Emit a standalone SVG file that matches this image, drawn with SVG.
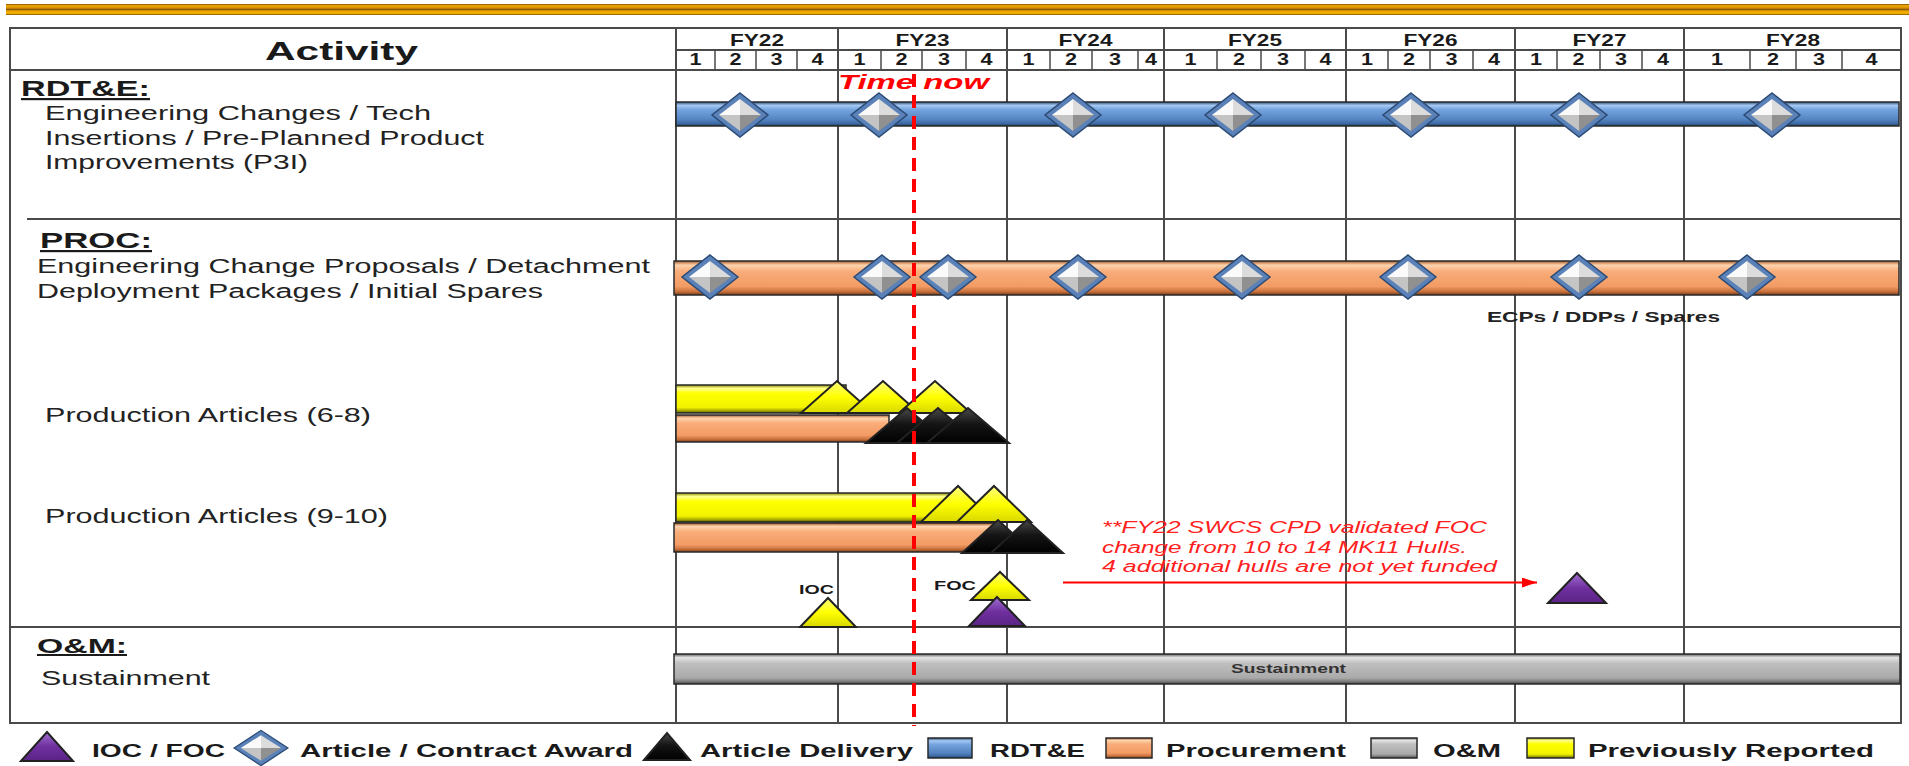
<svg xmlns="http://www.w3.org/2000/svg" xmlns:xlink="http://www.w3.org/1999/xlink" width="1909" height="766" viewBox="0 0 1909 766">
<style>
text{font-family:"Liberation Sans",Arial,sans-serif;fill:#1a1a1a}
.b{font-weight:bold}
.hdr{font-size:17px;font-weight:bold}
.q{font-size:16px;font-weight:bold;text-anchor:middle}
.row{font-size:20px;fill:#222}
.sec{font-size:22px;font-weight:bold;text-decoration:underline}
.leg{font-size:18.5px;font-weight:bold}
.note{font-size:16px;font-style:italic;fill:#ff2020}
.small{font-size:13px;font-weight:bold}
.grid{stroke:#4a4a4a;stroke-width:2;fill:none}
.qd{stroke:#4a4a4a;stroke-width:1.5}
.bar{stroke:#2a2a2a;stroke-width:1.5}
.tri{stroke:#222;stroke-width:2;stroke-linejoin:miter}
</style>
<defs>
<linearGradient id="gold" x1="0" y1="0" x2="0" y2="1">
<stop offset="0" stop-color="#7a4a00"/><stop offset="0.15" stop-color="#f2aa00"/><stop offset="0.38" stop-color="#d08a00"/><stop offset="0.5" stop-color="#8a5800"/><stop offset="0.62" stop-color="#e8a000"/><stop offset="0.85" stop-color="#f6b600"/><stop offset="1" stop-color="#7a4a00"/>
</linearGradient>
<linearGradient id="gBlue" x1="0" y1="0" x2="0" y2="1">
<stop offset="0" stop-color="#2c4f7c"/><stop offset="0.14" stop-color="#a6c8f2"/><stop offset="0.32" stop-color="#74a3de"/><stop offset="0.72" stop-color="#5585c2"/><stop offset="0.9" stop-color="#3d6aa3"/><stop offset="1" stop-color="#1f3a60"/>
</linearGradient>
<linearGradient id="gOrange" x1="0" y1="0" x2="0" y2="1">
<stop offset="0" stop-color="#a85a2a"/><stop offset="0.12" stop-color="#ffd4ae"/><stop offset="0.3" stop-color="#f9ad7a"/><stop offset="0.75" stop-color="#f39b64"/><stop offset="0.9" stop-color="#c8703c"/><stop offset="1" stop-color="#7a3e1a"/>
</linearGradient>
<linearGradient id="gYellow" x1="0" y1="0" x2="0" y2="1">
<stop offset="0" stop-color="#8a8a00"/><stop offset="0.12" stop-color="#ffff90"/><stop offset="0.3" stop-color="#ffff00"/><stop offset="0.8" stop-color="#f2f200"/><stop offset="0.92" stop-color="#a8a800"/><stop offset="1" stop-color="#505000"/>
</linearGradient>
<linearGradient id="gGray" x1="0" y1="0" x2="0" y2="1">
<stop offset="0" stop-color="#606060"/><stop offset="0.12" stop-color="#e4e4e4"/><stop offset="0.3" stop-color="#c0c0c0"/><stop offset="0.8" stop-color="#a9a9a9"/><stop offset="0.92" stop-color="#7a7a7a"/><stop offset="1" stop-color="#404040"/>
</linearGradient>
<linearGradient id="tYellow" x1="0" y1="0" x2="0" y2="1">
<stop offset="0" stop-color="#ffff80"/><stop offset="0.5" stop-color="#ffff00"/><stop offset="1" stop-color="#d8d800"/>
</linearGradient>
<linearGradient id="tBlack" x1="0" y1="0" x2="0" y2="1">
<stop offset="0" stop-color="#4a4a4a"/><stop offset="0.45" stop-color="#151515"/><stop offset="1" stop-color="#000"/>
</linearGradient>
<linearGradient id="tPurple" x1="0" y1="0" x2="0" y2="1">
<stop offset="0" stop-color="#a070d0"/><stop offset="0.5" stop-color="#7030a0"/><stop offset="1" stop-color="#5a2385"/>
</linearGradient>
<g id="dia">
<polygon points="0,-22 28,0 0,22 -28,0" fill="#5a82b8" stroke="#2a4a75" stroke-width="1.5"/>
<polygon points="0,-16 -21,0 0,0" fill="#fafafa"/>
<polygon points="0,-16 21,0 0,0" fill="#dcdcdc"/>
<polygon points="-21,0 0,16 0,0" fill="#c4c4c4"/>
<polygon points="21,0 0,16 0,0" fill="#909090"/>
</g>
<marker id="arr" markerUnits="userSpaceOnUse" markerWidth="15" markerHeight="10" refX="15" refY="5" orient="auto">
<path d="M0,0 L15,5 L0,10 z" fill="#ff0000"/>
</marker>
</defs>

<rect x="0" y="0" width="1909" height="766" fill="#ffffff"/>
<rect id="topband" x="6" y="4" width="1903" height="11" fill="url(#gold)"/>

<g id="table">
<rect class="grid" x="10" y="28" width="1891" height="695"/>
<line class="grid" x1="676" y1="28" x2="676" y2="723"/>
<line class="grid" x1="838" y1="28" x2="838" y2="723"/>
<line class="grid" x1="1007" y1="28" x2="1007" y2="723"/>
<line class="grid" x1="1164" y1="28" x2="1164" y2="723"/>
<line class="grid" x1="1346" y1="28" x2="1346" y2="723"/>
<line class="grid" x1="1515" y1="28" x2="1515" y2="723"/>
<line class="grid" x1="1684" y1="28" x2="1684" y2="723"/>
<line class="grid" x1="676" y1="50" x2="1901" y2="50"/>
<line class="grid" x1="10" y1="70" x2="1901" y2="70"/>
<line class="grid" x1="27" y1="219" x2="1901" y2="219"/>
<line class="grid" x1="10" y1="627" x2="1901" y2="627"/>
<g id="quarter-lines">
<line class="qd" x1="715" y1="50" x2="715" y2="70"/><line class="qd" x1="756" y1="50" x2="756" y2="70"/><line class="qd" x1="797" y1="50" x2="797" y2="70"/>
<line class="qd" x1="881" y1="50" x2="881" y2="70"/><line class="qd" x1="922" y1="50" x2="922" y2="70"/><line class="qd" x1="966" y1="50" x2="966" y2="70"/>
<line class="qd" x1="1050" y1="50" x2="1050" y2="70"/><line class="qd" x1="1092" y1="50" x2="1092" y2="70"/><line class="qd" x1="1138" y1="50" x2="1138" y2="70"/>
<line class="qd" x1="1217" y1="50" x2="1217" y2="70"/><line class="qd" x1="1261" y1="50" x2="1261" y2="70"/><line class="qd" x1="1305" y1="50" x2="1305" y2="70"/>
<line class="qd" x1="1388" y1="50" x2="1388" y2="70"/><line class="qd" x1="1430" y1="50" x2="1430" y2="70"/><line class="qd" x1="1473" y1="50" x2="1473" y2="70"/>
<line class="qd" x1="1557" y1="50" x2="1557" y2="70"/><line class="qd" x1="1600" y1="50" x2="1600" y2="70"/><line class="qd" x1="1642" y1="50" x2="1642" y2="70"/>
<line class="qd" x1="1750" y1="50" x2="1750" y2="70"/><line class="qd" x1="1796" y1="50" x2="1796" y2="70"/><line class="qd" x1="1842" y1="50" x2="1842" y2="70"/>
</g>
</g>

<g id="header">
<text class="b" x="265" y="60" font-size="26" textLength="153" lengthAdjust="spacingAndGlyphs">Activity</text>
<text class="hdr" x="757" y="46" text-anchor="middle" textLength="54" lengthAdjust="spacingAndGlyphs">FY22</text>
<text class="hdr" x="922.5" y="46" text-anchor="middle" textLength="54" lengthAdjust="spacingAndGlyphs">FY23</text>
<text class="hdr" x="1085.5" y="46" text-anchor="middle" textLength="54" lengthAdjust="spacingAndGlyphs">FY24</text>
<text class="hdr" x="1255" y="46" text-anchor="middle" textLength="54" lengthAdjust="spacingAndGlyphs">FY25</text>
<text class="hdr" x="1430.5" y="46" text-anchor="middle" textLength="54" lengthAdjust="spacingAndGlyphs">FY26</text>
<text class="hdr" x="1599.5" y="46" text-anchor="middle" textLength="54" lengthAdjust="spacingAndGlyphs">FY27</text>
<text class="hdr" x="1793" y="46" text-anchor="middle" textLength="54" lengthAdjust="spacingAndGlyphs">FY28</text>
<g id="quarters">
<text class="q" x="695.5" y="65" textLength="12" lengthAdjust="spacingAndGlyphs">1</text><text class="q" x="735.5" y="65" textLength="12" lengthAdjust="spacingAndGlyphs">2</text><text class="q" x="776.5" y="65" textLength="12" lengthAdjust="spacingAndGlyphs">3</text><text class="q" x="817.5" y="65" textLength="12" lengthAdjust="spacingAndGlyphs">4</text>
<text class="q" x="859.5" y="65" textLength="12" lengthAdjust="spacingAndGlyphs">1</text><text class="q" x="901.5" y="65" textLength="12" lengthAdjust="spacingAndGlyphs">2</text><text class="q" x="944" y="65" textLength="12" lengthAdjust="spacingAndGlyphs">3</text><text class="q" x="986.5" y="65" textLength="12" lengthAdjust="spacingAndGlyphs">4</text>
<text class="q" x="1028.5" y="65" textLength="12" lengthAdjust="spacingAndGlyphs">1</text><text class="q" x="1071" y="65" textLength="12" lengthAdjust="spacingAndGlyphs">2</text><text class="q" x="1115" y="65" textLength="12" lengthAdjust="spacingAndGlyphs">3</text><text class="q" x="1151" y="65" textLength="12" lengthAdjust="spacingAndGlyphs">4</text>
<text class="q" x="1190.5" y="65" textLength="12" lengthAdjust="spacingAndGlyphs">1</text><text class="q" x="1239" y="65" textLength="12" lengthAdjust="spacingAndGlyphs">2</text><text class="q" x="1283" y="65" textLength="12" lengthAdjust="spacingAndGlyphs">3</text><text class="q" x="1325.5" y="65" textLength="12" lengthAdjust="spacingAndGlyphs">4</text>
<text class="q" x="1367" y="65" textLength="12" lengthAdjust="spacingAndGlyphs">1</text><text class="q" x="1409" y="65" textLength="12" lengthAdjust="spacingAndGlyphs">2</text><text class="q" x="1451.5" y="65" textLength="12" lengthAdjust="spacingAndGlyphs">3</text><text class="q" x="1494" y="65" textLength="12" lengthAdjust="spacingAndGlyphs">4</text>
<text class="q" x="1536" y="65" textLength="12" lengthAdjust="spacingAndGlyphs">1</text><text class="q" x="1578.5" y="65" textLength="12" lengthAdjust="spacingAndGlyphs">2</text><text class="q" x="1621" y="65" textLength="12" lengthAdjust="spacingAndGlyphs">3</text><text class="q" x="1663" y="65" textLength="12" lengthAdjust="spacingAndGlyphs">4</text>
<text class="q" x="1717" y="65" textLength="12" lengthAdjust="spacingAndGlyphs">1</text><text class="q" x="1773" y="65" textLength="12" lengthAdjust="spacingAndGlyphs">2</text><text class="q" x="1819" y="65" textLength="12" lengthAdjust="spacingAndGlyphs">3</text><text class="q" x="1871.5" y="65" textLength="12" lengthAdjust="spacingAndGlyphs">4</text>
</g>
</g>

<g id="labels">
<text class="sec" x="21" y="96" textLength="129" lengthAdjust="spacingAndGlyphs">RDT&amp;E:</text>
<text class="row" x="45" y="120" textLength="386" lengthAdjust="spacingAndGlyphs">Engineering Changes / Tech</text>
<text class="row" x="45" y="144.5" textLength="439" lengthAdjust="spacingAndGlyphs">Insertions / Pre-Planned Product</text>
<text class="row" x="45" y="169" textLength="263" lengthAdjust="spacingAndGlyphs">Improvements (P3I)</text>
<text class="sec" x="40" y="248" textLength="112" lengthAdjust="spacingAndGlyphs">PROC:</text>
<text class="row" x="37" y="273" textLength="613" lengthAdjust="spacingAndGlyphs">Engineering Change Proposals / Detachment</text>
<text class="row" x="37" y="297.5" textLength="506" lengthAdjust="spacingAndGlyphs">Deployment Packages / Initial Spares</text>
<text class="row" x="45" y="422" textLength="326" lengthAdjust="spacingAndGlyphs">Production Articles (6-8)</text>
<text class="row" x="45" y="523" textLength="343" lengthAdjust="spacingAndGlyphs">Production Articles (9-10)</text>
<text class="sec" x="37" y="653" font-size="20" style="font-size:20px" textLength="90" lengthAdjust="spacingAndGlyphs">O&amp;M:</text>
<text class="row" x="41" y="685" textLength="169" lengthAdjust="spacingAndGlyphs">Sustainment</text>
</g>

<g id="rdte-row">
<rect class="bar" x="676" y="102" width="1223" height="24" fill="url(#gBlue)" stroke="#1c2e48"/>
<use xlink:href="#dia" href="#dia" x="740" y="115"/>
<use xlink:href="#dia" href="#dia" x="879" y="115"/>
<use xlink:href="#dia" href="#dia" x="1073" y="115"/>
<use xlink:href="#dia" href="#dia" x="1233" y="115"/>
<use xlink:href="#dia" href="#dia" x="1411" y="115"/>
<use xlink:href="#dia" href="#dia" x="1579" y="115"/>
<use xlink:href="#dia" href="#dia" x="1772" y="115"/>
</g>

<g id="proc-row">
<rect class="bar" x="674" y="261" width="1225" height="34" fill="url(#gOrange)"/>
<use xlink:href="#dia" href="#dia" x="710" y="277"/>
<use xlink:href="#dia" href="#dia" x="882" y="277"/>
<use xlink:href="#dia" href="#dia" x="948" y="277"/>
<use xlink:href="#dia" href="#dia" x="1078" y="277"/>
<use xlink:href="#dia" href="#dia" x="1242" y="277"/>
<use xlink:href="#dia" href="#dia" x="1408" y="277"/>
<use xlink:href="#dia" href="#dia" x="1579" y="277"/>
<use xlink:href="#dia" href="#dia" x="1747" y="277"/>
<text class="b" x="1487" y="322" font-size="15" style="fill:#222" textLength="233" lengthAdjust="spacingAndGlyphs">ECPs / DDPs / Spares</text>
</g>

<g id="prod-6-8">
<rect class="bar" x="676" y="385" width="170" height="28" fill="url(#gYellow)"/>
<polygon class="tri" points="801,413 837,381 873,413" fill="url(#tYellow)"/>
<polygon class="tri" points="847,413 883,381 919,413" fill="url(#tYellow)"/>
<polygon class="tri" points="899,413 935,381 971,413" fill="url(#tYellow)"/>
<rect class="bar" x="676" y="415" width="213" height="27" fill="url(#gOrange)"/>
<polygon class="tri" points="866,443 907,408 948,443" fill="url(#tBlack)"/>
<polygon class="tri" points="897,443 938,408 979,443" fill="url(#tBlack)"/>
<polygon class="tri" points="927,443 968,408 1009,443" fill="url(#tBlack)"/>
</g>

<g id="prod-9-10">
<rect class="bar" x="676" y="493" width="284" height="29" fill="url(#gYellow)"/>
<polygon class="tri" points="921,522 958,486 995,522" fill="url(#tYellow)"/>
<polygon class="tri" points="957,522 994,486 1031,522" fill="url(#tYellow)"/>
<rect class="bar" x="674" y="523" width="324" height="29" fill="url(#gOrange)"/>
<polygon class="tri" points="962,553 998,520 1034,553" fill="url(#tBlack)"/>
<polygon class="tri" points="991,553 1027,520 1063,553" fill="url(#tBlack)"/>
</g>

<g id="note">
<text class="note" x="1102" y="533" textLength="385" lengthAdjust="spacingAndGlyphs">**FY22 SWCS  CPD validated FOC</text>
<text class="note" x="1102" y="553" textLength="365" lengthAdjust="spacingAndGlyphs">change from 10 to 14 MK11 Hulls.</text>
<text class="note" x="1102" y="572" textLength="395" lengthAdjust="spacingAndGlyphs">4 additional hulls are not yet funded</text>
</g>

<g id="milestones">
<text class="small" x="799" y="594" textLength="35" lengthAdjust="spacingAndGlyphs">IOC</text>
<polygon class="tri" points="800,627 828,598 856,627" fill="url(#tYellow)"/>
<text class="small" x="934" y="590" textLength="42" lengthAdjust="spacingAndGlyphs">FOC</text>
<polygon class="tri" points="971,600 1000,572 1029,600" fill="url(#tYellow)"/>
<polygon class="tri" points="969,626 997,597 1025,626" fill="url(#tPurple)"/>
<polygon class="tri" points="1548,603 1577,573 1606,603" fill="url(#tPurple)"/>
</g>

<g id="om-row">
<rect class="bar" x="674" y="654" width="1226" height="30" fill="url(#gGray)"/>
<text class="small" x="1231" y="673" style="fill:#333" textLength="115" lengthAdjust="spacingAndGlyphs">Sustainment</text>
</g>

<g id="time-now">
<line x1="914" y1="74" x2="914" y2="726" stroke="#ff0000" stroke-width="4" stroke-dasharray="13 8"/>
<text class="b" x="838" y="89" font-size="20" style="fill:#ff0000;font-style:italic" textLength="151" lengthAdjust="spacingAndGlyphs">Time now</text>
</g>

<g id="connectors">
<line x1="1063" y1="582.5" x2="1537" y2="582.5" stroke="#ff0000" stroke-width="2" marker-end="url(#arr)"/>
</g>

<g id="legend">
<polygon class="tri" points="21,761 47,732 73,761" fill="url(#tPurple)"/>
<text class="leg" x="92" y="757" textLength="133" lengthAdjust="spacingAndGlyphs">IOC / FOC</text>
<use xlink:href="#dia" href="#dia" transform="translate(261,748) scale(0.96,0.8)"/>
<text class="leg" x="300" y="757" textLength="333" lengthAdjust="spacingAndGlyphs">Article / Contract Award</text>
<polygon class="tri" points="644,760 667,733 690,760" fill="url(#tBlack)"/>
<text class="leg" x="700" y="757" textLength="213" lengthAdjust="spacingAndGlyphs">Article Delivery</text>
<rect class="bar" x="928" y="738" width="44" height="20" fill="url(#gBlue)"/>
<text class="leg" x="990" y="757" textLength="95" lengthAdjust="spacingAndGlyphs">RDT&amp;E</text>
<rect class="bar" x="1106" y="738" width="46" height="20" fill="url(#gOrange)"/>
<text class="leg" x="1166" y="757" textLength="180" lengthAdjust="spacingAndGlyphs">Procurement</text>
<rect class="bar" x="1371" y="738" width="46" height="20" fill="url(#gGray)"/>
<text class="leg" x="1433" y="757" textLength="68" lengthAdjust="spacingAndGlyphs">O&amp;M</text>
<rect class="bar" x="1527" y="738" width="47" height="20" fill="url(#gYellow)"/>
<text class="leg" x="1588" y="757" textLength="286" lengthAdjust="spacingAndGlyphs">Previously Reported</text>
</g>
</svg>
